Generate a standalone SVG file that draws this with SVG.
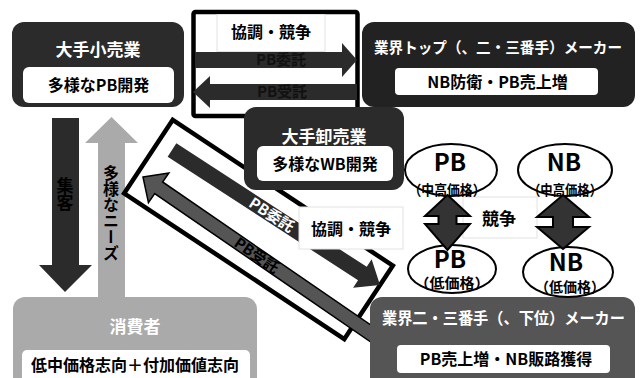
<svg xmlns="http://www.w3.org/2000/svg" width="641" height="378" viewBox="0 0 641 378">
<style>
text{font-family:"Noto Sans CJK JP","Noto Sans CJK SC",sans-serif;font-weight:bold;text-anchor:middle}
.w{fill:#fff}
.k{fill:#000}
.t17{font-size:17px}
.t16{font-size:16px}
.t15{font-size:15px}
.t14{font-size:14px}
.big{font-size:24px}
.dark{fill:#2b2b2b}
.inner{fill:#fff}
.faint{fill:#fff;stroke:#e2e2e2;stroke-width:1}
.ell{fill:#fff;stroke:#000;stroke-width:2}
.dbl{fill:#333;stroke:#000;stroke-width:2;stroke-linejoin:miter}
.vert{writing-mode:vertical-rl}
</style>
<rect width="641" height="378" fill="#fff"/>
<g id="connectors">
  <polygon id="arrow-shukyaku" class="dark" points="52,118 79,118 79,265 92,265 65,292 39,265 52,265"/>
  <polygon id="arrow-needs" fill="#aaa" points="98,300 98,143 85,143 111.5,117 138,143 125,143 125,300"/>
  <text class="k t17 vert" x="65" y="194">集客</text>
  <text class="k t16 vert" x="111" y="213">多様なニーズ</text>
</g>
<g id="consumer">
  <rect x="13" y="297" width="244" height="100" rx="12" fill="#aaa"/>
  <text class="w t17" x="135" y="333">消費者</text>
  <rect x="22" y="350" width="228" height="45" rx="5" class="inner"/>
  <text class="k t16" x="135" y="371">低中価格志向＋付加価値志向</text>
</g>
<g id="top-relation">
  <rect x="193.5" y="12" width="164" height="104" rx="2" fill="#fff" stroke="#000" stroke-width="4.5"/>
  <rect x="217" y="14.5" width="108" height="37" class="faint"/>
  <text class="k t16" x="271" y="38">協調・競争</text>
  <polygon class="dark" points="195,52 342,52 342,43 357,60 342,77 342,68 195,68"/>
  <polygon class="dark" points="357,84 210,84 210,76 193,92 210,108 210,100 357,100"/>
  <text fill="#111" class="t15" x="281" y="65">PB委託</text>
  <text fill="#111" class="t15" x="282" y="97">PB受託</text>
</g>
<g id="retailer">
  <rect x="12" y="22" width="172" height="85" rx="12" class="dark"/>
  <text class="w t17" x="98" y="56">大手小売業</text>
  <rect x="23" y="67" width="151" height="36" rx="6" class="inner"/>
  <text class="k t16" x="98.5" y="91">多様なPB開発</text>
</g>
<g id="top-maker">
  <rect x="362" y="22" width="273" height="85" rx="12" fill="#222"/>
  <text class="w t15" x="498" y="53" textLength="248" lengthAdjust="spacingAndGlyphs">業界トップ（、二・三番手）メーカー</text>
  <rect x="395" y="68" width="203" height="27" rx="4" class="inner"/>
  <text class="k t16" x="497.5" y="88">NB防衛・PB売上増</text>
</g>
<g id="diag-relation">
  <rect x="-132" y="-44" width="264" height="88" fill="#fff" stroke="#000" stroke-width="4.5" transform="translate(258.5,229.5) rotate(33.5)"/>
  <g transform="translate(380,285) rotate(33)">
    <polygon class="dark" points="0,0 -21,-17 -21,-8 -248,-8 -248,8 -21,8 -21,17"/>
    <text class="w t15" x="-129" y="5.5">PB委託</text>
  </g>
  <g transform="translate(143,177) rotate(34.5)">
    <polygon fill="#555" stroke="#000" stroke-width="1.5" points="0,0 19,-18 19,-7 290,-7 290,7 19,7 19,18"/>
    <text class="k t15" x="138" y="5.5">PB受託</text>
  </g>
  <rect x="299" y="207" width="104" height="42" class="faint"/>
  <text class="k t16" x="351" y="235">協調・競争</text>
</g>
<g id="lower-maker">
  <rect x="370" y="297" width="265" height="100" rx="12" fill="#555"/>
  <text class="w t16" x="503.5" y="324" textLength="243" lengthAdjust="spacingAndGlyphs">業界二・三番手（、下位）メーカー</text>
  <rect x="397" y="345" width="213" height="28" rx="4" class="inner"/>
  <text class="k t16" x="506" y="365">PB売上増・NB販路獲得</text>
</g>
<g id="wholesaler">
  <rect x="244" y="107" width="160" height="83" rx="12" class="dark"/>
  <text class="w t17" x="324" y="143">大手卸売業</text>
  <rect x="257" y="146" width="136" height="35" rx="6" class="inner"/>
  <text class="k t16" x="325" y="170">多様なWB開発</text>
</g>
<g id="brands">
  <rect x="463" y="197" width="74" height="41" class="faint"/>
  <text class="k t17" x="499" y="225">競争</text>
  <g id="pb-mid">
    <ellipse cx="451" cy="170" rx="46" ry="26" class="ell"/>
    <text class="k big" x="450" y="171">PB</text>
    <text class="k t14" x="447" y="195" textLength="77" lengthAdjust="spacingAndGlyphs">（中高価格）</text>
  </g>
  <g id="nb-mid">
    <ellipse cx="565" cy="170" rx="47" ry="26" class="ell"/>
    <text class="k big" x="564" y="171">NB</text>
    <text class="k t14" x="565" y="195" textLength="74" lengthAdjust="spacingAndGlyphs">（中高価格）</text>
  </g>
  <g id="pb-low">
    <ellipse cx="452" cy="269" rx="44" ry="24" class="ell"/>
    <text class="k big" x="450" y="268">PB</text>
    <text class="k t14" x="452" y="288" textLength="75" lengthAdjust="spacingAndGlyphs">（低価格）</text>
  </g>
  <g id="nb-low">
    <ellipse cx="568" cy="272" rx="45" ry="25" class="ell"/>
    <text class="k big" x="566" y="271">NB</text>
    <text class="k t14" x="570" y="292" textLength="70" lengthAdjust="spacingAndGlyphs">（低価格）</text>
  </g>
  <polygon class="dbl" points="447.5,195 470,216 456.5,216 456.5,224 470,224 447.5,250 425,224 438.5,224 438.5,216 425,216"/>
  <polygon class="dbl" points="563,195 589,217 573,217 573,227 589,227 563,249 537,227 553,227 553,217 537,217"/>
</g>
</svg>
